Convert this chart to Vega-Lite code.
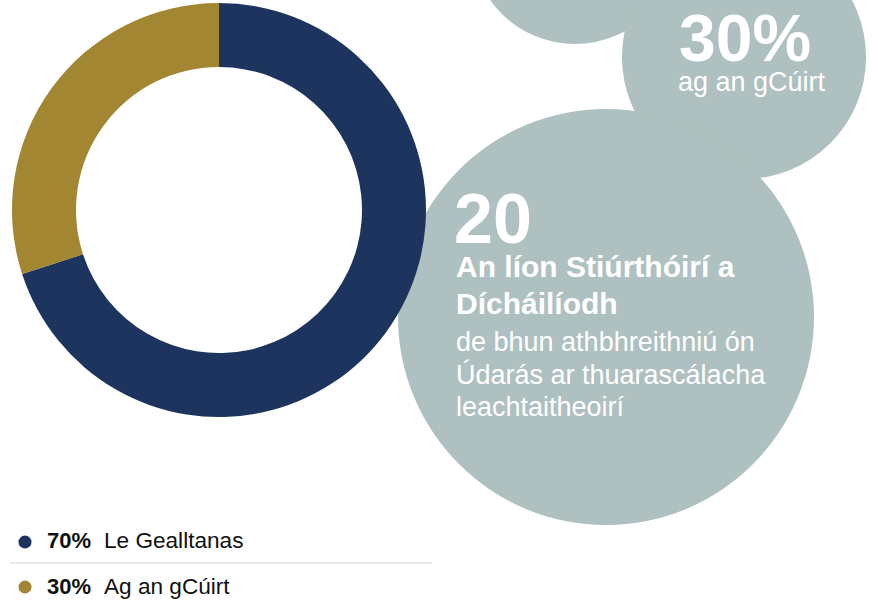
{
  "$schema": "https://vega.github.io/schema/vega-lite/v6.json",
  "width": 873,
  "height": 607,
  "padding": 0,
  "autosize": {"type": "none"},
  "background": "#ffffff",
  "config": {
    "view": {"stroke": null},
    "axis": {"disable": true},
    "legend": {"disable": true},
    "text": {"font": "Liberation Sans"}
  },
  "datasets": {
    "split": [
      {"label": "Le Gealltanas", "pct": 0.7},
      {"label": "Ag an gCúirt", "pct": 0.3}
    ],
    "stats": [
      {"stat": "30%", "title": "", "caption": "ag an gCúirt"},
      {"stat": "20", "title": "An líon Stiúrthóirí a\nDícháilíodh", "caption": "de bhun athbhreithniú ón\nÚdarás ar thuarascálacha\nleachtaitheoirí"}
    ],
    "blank": [{}]
  },
  "layer": [
    {
      "data": {"name": "blank"},
      "mark": {"type": "arc", "theta": 6.2832, "fill": "#aec0bf"},
      "encoding": {
        "x": {"datum": 575, "type": "quantitative", "scale": {"domain": [0, 873], "nice": false, "zero": false}, "axis": null},
        "y": {"datum": -60, "type": "quantitative", "scale": {"domain": [0, 607], "nice": false, "zero": false, "reverse": true}, "axis": null},
        "radius": {"datum": 104, "type": "quantitative", "scale": {"type": "linear", "domain": [0, 873], "range": [0, 873], "zero": true}}
      }
    },
    {
      "data": {"name": "stats"},
      "transform": [{"filter": "datum.stat === '30%'"}],
      "mark": {"type": "arc", "theta": 6.2832, "fill": "#aec0bf"},
      "encoding": {
        "x": {"datum": 744, "type": "quantitative"},
        "y": {"datum": 57, "type": "quantitative"},
        "radius": {"datum": 122, "type": "quantitative"}
      }
    },
    {
      "data": {"name": "stats"},
      "transform": [{"filter": "datum.stat === '20'"}],
      "mark": {"type": "arc", "theta": 6.2832, "fill": "#aec0bf"},
      "encoding": {
        "x": {"datum": 606, "type": "quantitative"},
        "y": {"datum": 317, "type": "quantitative"},
        "radius": {"datum": 208, "type": "quantitative"}
      }
    },
    {
      "data": {"name": "split"},
      "mark": {"type": "arc"},
      "encoding": {
        "x": {"datum": 219, "type": "quantitative"},
        "y": {"datum": 210, "type": "quantitative"},
        "theta": {"field": "pct", "type": "quantitative", "stack": true},
        "order": {"field": "pct", "type": "quantitative", "sort": "descending"},
        "radius": {"datum": 207, "type": "quantitative"},
        "radius2": {"datum": 143},
        "color": {"field": "label", "type": "nominal", "scale": {"domain": ["Le Gealltanas", "Ag an gCúirt"], "range": ["#1d355e", "#a28632"]}, "legend": null}
      }
    },
    {
      "data": {"name": "stats"},
      "transform": [{"filter": "datum.stat === '30%'"}],
      "layer": [
        {
          "mark": {"type": "text", "align": "left", "baseline": "alphabetic", "fontSize": 66, "fontWeight": "bold", "fill": "#ffffff"},
          "encoding": {
            "x": {"datum": 679, "type": "quantitative"},
            "y": {"datum": 61, "type": "quantitative"},
            "text": {"field": "stat"}
          }
        },
        {
          "mark": {"type": "text", "align": "left", "baseline": "alphabetic", "fontSize": 27, "fill": "#ffffff"},
          "encoding": {
            "x": {"datum": 678, "type": "quantitative"},
            "y": {"datum": 91, "type": "quantitative"},
            "text": {"field": "caption"}
          }
        }
      ]
    },
    {
      "data": {"name": "stats"},
      "transform": [{"filter": "datum.stat === '20'"}],
      "layer": [
        {
          "mark": {"type": "text", "align": "left", "baseline": "alphabetic", "fontSize": 70, "fontWeight": "bold", "fill": "#ffffff"},
          "encoding": {
            "x": {"datum": 454, "type": "quantitative"},
            "y": {"datum": 243, "type": "quantitative"},
            "text": {"field": "stat"}
          }
        },
        {
          "mark": {"type": "text", "align": "left", "baseline": "alphabetic", "fontSize": 30, "fontWeight": "bold", "fill": "#ffffff", "lineBreak": "\n", "lineHeight": 37},
          "encoding": {
            "x": {"datum": 456, "type": "quantitative"},
            "y": {"datum": 277, "type": "quantitative"},
            "text": {"field": "title"}
          }
        },
        {
          "mark": {"type": "text", "align": "left", "baseline": "alphabetic", "fontSize": 27, "fill": "#ffffff", "lineBreak": "\n", "lineHeight": 32.5},
          "encoding": {
            "x": {"datum": 456, "type": "quantitative"},
            "y": {"datum": 351, "type": "quantitative"},
            "text": {"field": "caption"}
          }
        }
      ]
    },
    {
      "data": {"name": "blank"},
      "mark": {"type": "rule", "stroke": "#d3d3d3", "strokeWidth": 1},
      "encoding": {
        "x": {"datum": 10, "type": "quantitative"},
        "x2": {"datum": 432},
        "y": {"datum": 563, "type": "quantitative"}
      }
    },
    {
      "data": {"name": "split"},
      "transform": [{"filter": "datum.label === 'Le Gealltanas'"}],
      "layer": [
        {
          "mark": {"type": "circle", "size": 170, "opacity": 1},
          "encoding": {
            "x": {"datum": 25, "type": "quantitative"},
            "y": {"datum": 542, "type": "quantitative"},
            "color": {"field": "label", "type": "nominal", "legend": null}
          }
        },
        {
          "mark": {"type": "text", "align": "left", "baseline": "alphabetic", "fontSize": 22, "fontWeight": "bold", "fill": "#111111"},
          "encoding": {
            "x": {"datum": 47, "type": "quantitative"},
            "y": {"datum": 548, "type": "quantitative"},
            "text": {"field": "pct", "type": "quantitative", "format": ".0%"}
          }
        },
        {
          "mark": {"type": "text", "align": "left", "baseline": "alphabetic", "fontSize": 22.6, "fill": "#111111"},
          "encoding": {
            "x": {"datum": 104, "type": "quantitative"},
            "y": {"datum": 548, "type": "quantitative"},
            "text": {"field": "label"}
          }
        }
      ]
    },
    {
      "data": {"name": "split"},
      "transform": [{"filter": "datum.label === 'Ag an gCúirt'"}],
      "layer": [
        {
          "mark": {"type": "circle", "size": 170, "opacity": 1},
          "encoding": {
            "x": {"datum": 25, "type": "quantitative"},
            "y": {"datum": 587, "type": "quantitative"},
            "color": {"field": "label", "type": "nominal", "legend": null}
          }
        },
        {
          "mark": {"type": "text", "align": "left", "baseline": "alphabetic", "fontSize": 22, "fontWeight": "bold", "fill": "#111111"},
          "encoding": {
            "x": {"datum": 47, "type": "quantitative"},
            "y": {"datum": 594, "type": "quantitative"},
            "text": {"field": "pct", "type": "quantitative", "format": ".0%"}
          }
        },
        {
          "mark": {"type": "text", "align": "left", "baseline": "alphabetic", "fontSize": 22.6, "fill": "#111111"},
          "encoding": {
            "x": {"datum": 104, "type": "quantitative"},
            "y": {"datum": 594, "type": "quantitative"},
            "text": {"field": "label"}
          }
        }
      ]
    }
  ]
}
